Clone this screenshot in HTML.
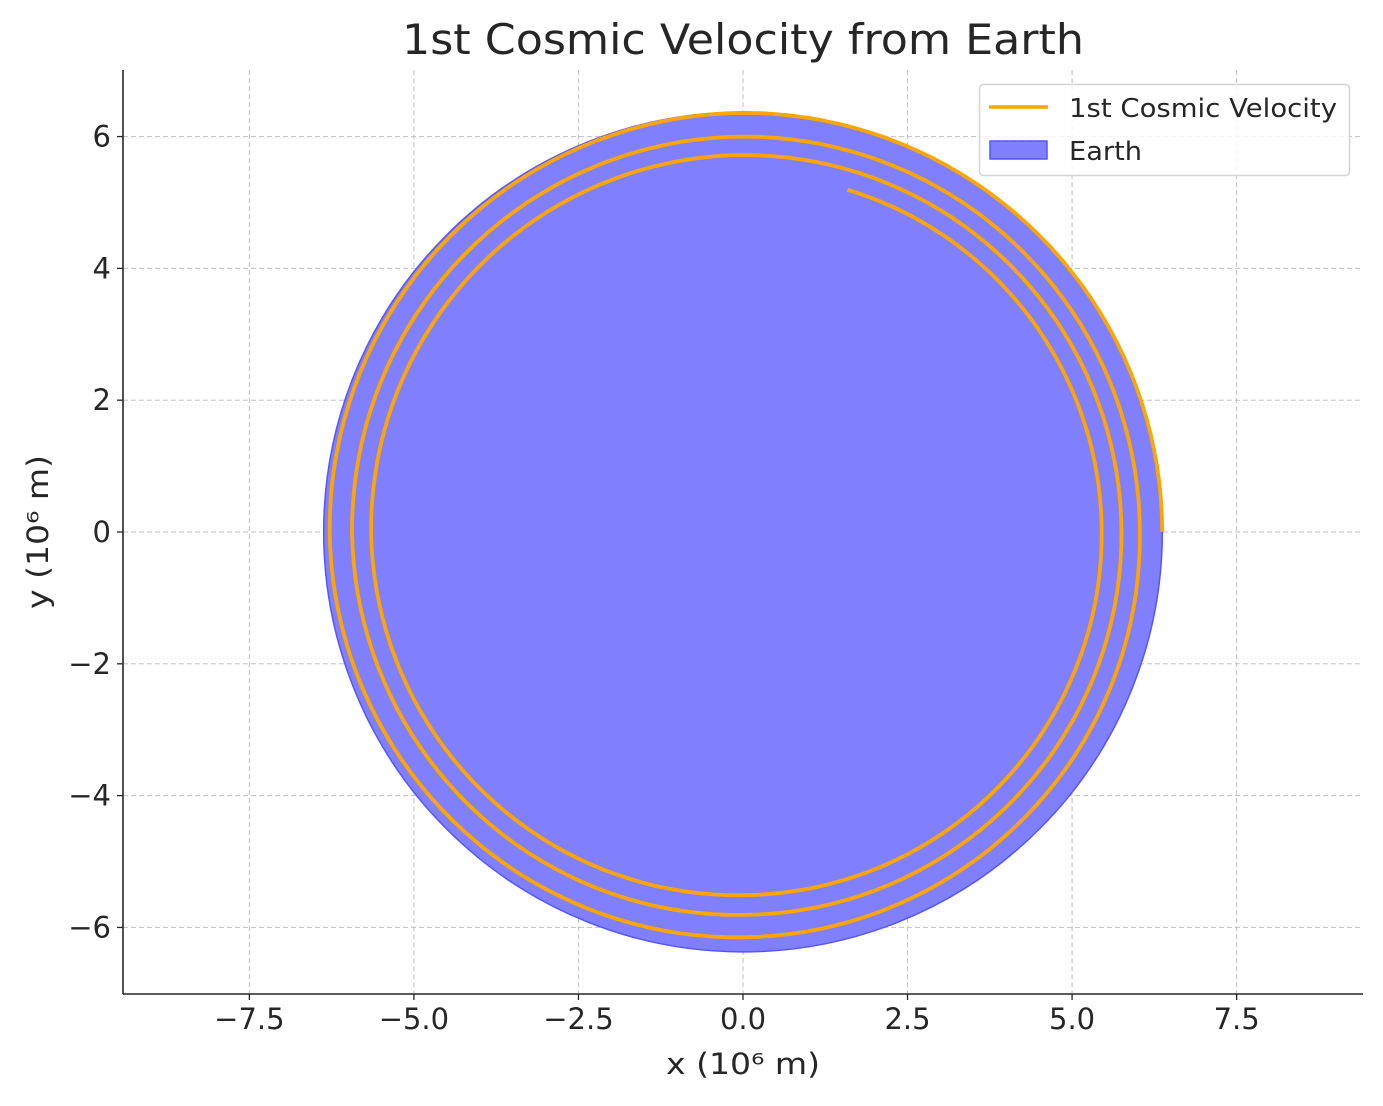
<!DOCTYPE html>
<html><head><meta charset="utf-8"><style>
html,body{margin:0;padding:0;background:#fff;}
svg text{font-family:"DejaVu Sans","Liberation Sans",sans-serif;fill:#262626;}
</style></head><body>
<svg id="chart" width="1383" height="1101" viewBox="0 0 1383 1101" xmlns="http://www.w3.org/2000/svg">
<rect width="1383" height="1101" fill="#fff"/>
<g id="grid"></g>
<g id="plot"></g>
<g id="axes"></g>
<text x="743" y="54" font-size="42" text-anchor="middle" textLength="682" lengthAdjust="spacingAndGlyphs">1st Cosmic Velocity from Earth</text>
<text x="743" y="1074" font-size="29" text-anchor="middle" textLength="154" lengthAdjust="spacingAndGlyphs">x (10⁶ m)</text>
<text x="0" y="0" font-size="29" text-anchor="middle" textLength="154" lengthAdjust="spacingAndGlyphs" transform="translate(48,532) rotate(-90)">y (10⁶ m)</text>
<g>
<rect x="979.5" y="84.5" width="370" height="91" rx="4" fill="#fff" fill-opacity="0.8" stroke="#d5d5d5" stroke-width="1.5"/>
<line x1="989" y1="107" x2="1048" y2="107" stroke="#ffa500" stroke-width="3.5"/>
<text x="1069" y="117" font-size="26" textLength="268" lengthAdjust="spacingAndGlyphs">1st Cosmic Velocity</text>
<rect x="990" y="141" width="57" height="18" fill="#8080ff" stroke="#5555ff" stroke-width="1.5"/>
<text x="1069" y="160" font-size="26" textLength="73" lengthAdjust="spacingAndGlyphs">Earth</text>
</g>
</svg>
<script>
const xTicks=[-7.5,-5.0,-2.5,0.0,2.5,5.0,7.5];
const yTicks=[-6,-4,-2,0,2,4,6];
const earthRadius=6.371;
const orbitAnglesDeg=[0,90,180,270,360,450,540,630,720,810,900,990,1080,1153];
const orbitRadii=[6.37,6.36,6.28,6.15,6.03,6.0,5.94,5.81,5.75,5.72,5.65,5.51,5.45,5.43];
const X0=123,X1=1363,Y0=70,Y1=994,xmin=-9.42,xmax=9.42,ymin=-7.01,ymax=7.01;
const sx=v=>X0+(v-xmin)/(xmax-xmin)*(X1-X0);
const sy=v=>Y1-(v-ymin)/(ymax-ymin)*(Y1-Y0);
const NS="http://www.w3.org/2000/svg";
function mk(t,a,p){const e=document.createElementNS(NS,t);for(const k in a)e.setAttribute(k,a[k]);p.appendChild(e);return e;}
const grid=document.getElementById('grid'),plot=document.getElementById('plot'),axes=document.getElementById('axes');
xTicks.forEach(v=>{
 const l=mk('line',{x1:sx(v),x2:sx(v),y1:Y0,y2:Y1,stroke:'#c0c0c0','stroke-width':1,'stroke-dasharray':'5,3'},grid);
 
 
 const t=mk('line',{x1:sx(v),x2:sx(v),y1:Y1,y2:Y1+6,stroke:'#262626','stroke-width':1.3},axes);
 
 
 const tx=mk('text',{x:sx(v),y:Y1+35,'font-size':29,'text-anchor':'middle'},axes);
 tx.textContent=v.toFixed(1).replace('-','−');
 
 
});
yTicks.forEach(v=>{
 const l=mk('line',{x1:X0,x2:X1,y1:sy(v),y2:sy(v),stroke:'#c0c0c0','stroke-width':1,'stroke-dasharray':'5,3'},grid);
 
 
 const t=mk('line',{x1:X0-6,x2:X0,y1:sy(v),y2:sy(v),stroke:'#262626','stroke-width':1.3},axes);
 
 
 const tx=mk('text',{x:X0-12,y:sy(v)+10,'font-size':29,'text-anchor':'end'},axes);
 tx.textContent=String(v).replace('-','−');
 
 
});
const earth=mk('ellipse',{cx:sx(0),cy:sy(0),rx:sx(earthRadius)-sx(0),ry:sy(0)-sy(earthRadius),fill:'#8080ff',stroke:'#5555ff','stroke-width':1.5},plot);


let pts=[];
for(let i=0;i<orbitAnglesDeg.length-1;i++){
 const a0=orbitAnglesDeg[i],a1=orbitAnglesDeg[i+1],r0=orbitRadii[i],r1=orbitRadii[i+1];
 const n=40;
 for(let k=0;k<n;k++){const f=k/n;const a=(a0+(a1-a0)*f)*Math.PI/180;const r=r0+(r1-r0)*f;
  pts.push(sx(r*Math.cos(a)).toFixed(1)+','+sy(r*Math.sin(a)).toFixed(1));}
}
{const i=orbitAnglesDeg.length-1;const a=orbitAnglesDeg[i]*Math.PI/180,r=orbitRadii[i];pts.push(sx(r*Math.cos(a)).toFixed(1)+','+sy(r*Math.sin(a)).toFixed(1));}
const orbit=mk('polyline',{points:pts.join(' '),fill:'none',stroke:'#ffa500','stroke-width':3.8,'stroke-linejoin':'round'},plot);


const la=mk('line',{x1:X0,x2:X0,y1:Y0,y2:Y1,stroke:'#262626','stroke-width':1.6},axes);


const lb=mk('line',{x1:X0,x2:X1,y1:Y1,y2:Y1,stroke:'#262626','stroke-width':1.6},axes);


</script>
</body></html>
